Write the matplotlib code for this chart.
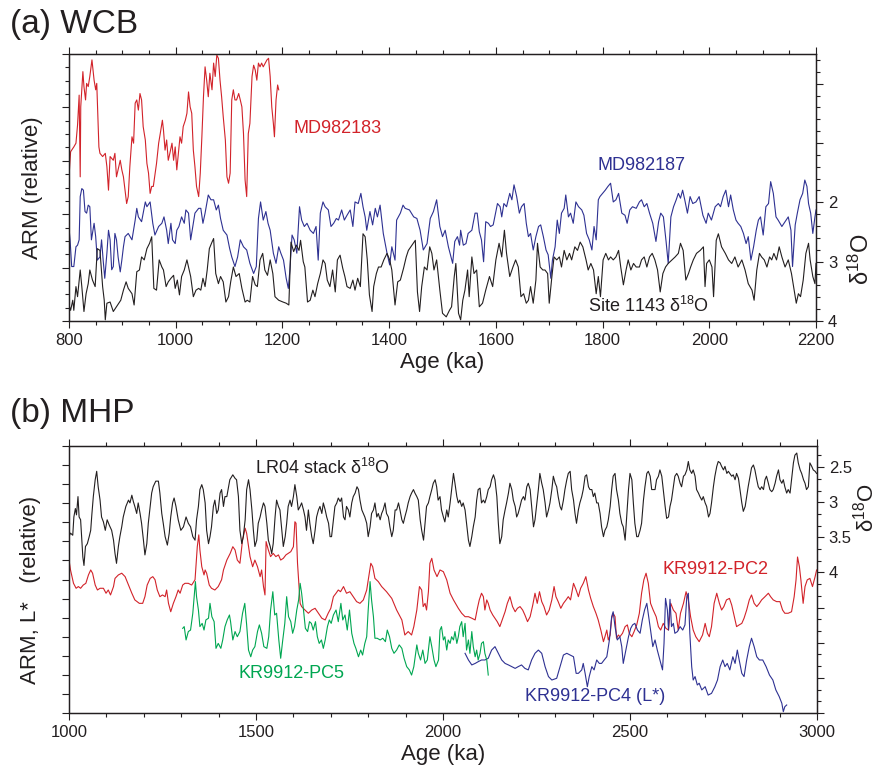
import matplotlib
matplotlib.use("Agg")
import matplotlib.pyplot as plt
from matplotlib.ticker import MultipleLocator, FuncFormatter
import numpy as np

plt.rcParams["font.family"] = ["Liberation Sans", "DejaVu Sans"]
plt.rcParams["mathtext.default"] = "regular"

RED = "#d2232a"
BLUE = "#2e3192"
GREEN = "#00a651"
BLACK = "#231f20"

# ---- (a) WCB: age (ka), value ----
md982183 = [
    (800, 2.70), (803, 3.17), (809, 3.26), (813, 3.33), (816, 3.67), (819, 4.23), (821, 2.70), (822, 4.01),
    (826, 4.67), (828, 4.39), (831, 4.14), (833, 4.45), (836, 4.39), (839, 4.58), (843, 4.89), (847, 4.51),
    (850, 4.33), (852, 4.45), (856, 3.26), (858, 3.14), (863, 3.08), (868, 3.14), (871, 2.89), (874, 2.45),
    (877, 3.08), (883, 3.01), (886, 3.14), (889, 2.70), (896, 3.01), (899, 2.83), (902, 2.70), (905, 2.45),
    (908, 2.20), (911, 2.33), (914, 2.89), (918, 3.45), (921, 3.33), (924, 4.08), (927, 4.14), (930, 3.95),
    (933, 4.26), (936, 4.14), (939, 3.64), (943, 3.39), (946, 2.95), (949, 2.77), (952, 2.39), (955, 2.52),
    (958, 2.52), (964, 2.95), (968, 3.33), (971, 3.51), (975, 3.76), (977, 3.58), (980, 3.20), (983, 3.39),
    (986, 3.01), (989, 3.14), (993, 3.33), (996, 3.01), (999, 3.26), (1002, 2.83), (1005, 3.14), (1008, 3.45),
    (1011, 3.33), (1014, 3.64), (1018, 3.76), (1021, 3.89), (1024, 4.29), (1027, 4.01), (1030, 3.89),
    (1033, 3.20), (1036, 2.89), (1039, 2.52), (1043, 2.33), (1046, 2.77), (1049, 3.45), (1052, 4.20),
    (1055, 4.76), (1058, 4.51), (1061, 4.20), (1064, 4.64), (1068, 4.33), (1071, 4.83), (1074, 4.58),
    (1077, 4.98), (1080, 4.92), (1083, 4.51), (1086, 4.20), (1089, 3.83), (1093, 3.39), (1096, 2.70),
    (1099, 2.58), (1102, 2.77), (1105, 4.14), (1108, 4.33), (1111, 4.14), (1114, 4.14), (1118, 4.26),
    (1121, 4.14), (1124, 4.01), (1127, 3.51), (1130, 2.64), (1133, 2.33), (1136, 3.51), (1139, 3.70),
    (1143, 4.58), (1146, 4.79), (1149, 4.70), (1152, 4.51), (1155, 4.83), (1158, 4.76), (1161, 4.83),
    (1164, 4.76), (1171, 4.89), (1174, 4.92), (1177, 4.58), (1180, 4.01), (1183, 3.70), (1185, 3.45),
    (1188, 4.14), (1191, 4.42), (1193, 4.33),
]

md982187 = [
    (800, 1.74), (802, 1.52), (805, 1.02), (809, 1.02), (813, 1.39), (816, 1.42), (819, 1.52), (821, 2.33),
    (824, 2.48), (827, 2.45), (830, 2.05), (833, 2.02), (836, 2.17), (839, 2.14), (842, 1.52), (847, 1.83),
    (850, 1.58), (853, 1.14), (858, 1.20), (861, 1.52), (864, 1.14), (867, 0.80), (871, 1.27), (874, 1.70),
    (877, 1.52), (880, 0.96), (883, 1.02), (886, 1.64), (889, 1.52), (892, 1.20), (896, 0.92), (899, 1.14),
    (902, 1.39), (905, 1.58), (911, 1.64), (918, 1.52), (924, 1.89), (927, 2.11), (930, 1.95), (936, 1.86),
    (943, 2.23), (946, 2.14), (952, 2.23), (957, 1.83), (961, 1.61), (968, 1.77), (974, 1.83), (978, 1.95),
    (983, 1.70), (986, 1.45), (991, 1.83), (994, 1.52), (999, 1.45), (1002, 1.70), (1006, 1.77), (1011, 1.95),
    (1016, 1.83), (1019, 2.08), (1024, 2.02), (1028, 1.52), (1032, 1.77), (1036, 2.02), (1043, 2.11),
    (1047, 2.11), (1051, 1.83), (1055, 2.02), (1061, 2.36), (1066, 2.27), (1071, 2.27), (1076, 2.08),
    (1080, 2.17), (1084, 1.92), (1089, 1.70), (1096, 1.61), (1101, 1.36), (1105, 1.20), (1111, 1.02),
    (1116, 1.20), (1121, 1.52), (1127, 1.39), (1133, 1.33), (1139, 1.08), (1146, 0.89), (1151, 1.02),
    (1155, 1.92), (1159, 2.23), (1164, 1.89), (1169, 2.05), (1173, 1.83), (1177, 1.70), (1183, 1.27),
    (1188, 1.08), (1193, 1.39), (1197, 1.27), (1202, 1.14), (1207, 0.80), (1211, 0.61), (1214, 0.96),
    (1218, 1.61), (1222, 1.52), (1227, 1.27), (1232, 2.14), (1236, 1.89), (1241, 1.77), (1246, 1.83),
    (1252, 1.70), (1258, 1.64), (1263, 1.77), (1267, 1.14), (1271, 2.02), (1276, 2.23), (1280, 2.14),
    (1286, 2.08), (1291, 1.77), (1296, 1.83), (1301, 1.92), (1305, 1.89), (1311, 2.08), (1316, 1.89),
    (1321, 1.98), (1327, 2.08), (1332, 1.77), (1336, 2.23), (1342, 2.20), (1347, 2.39), (1351, 2.14),
    (1355, 1.95), (1358, 1.70), (1364, 2.05), (1369, 1.80), (1374, 2.11), (1378, 1.95), (1383, 2.17),
    (1389, 1.64), (1396, 1.27), (1401, 1.05), (1405, 1.39), (1411, 1.14), (1414, 1.89), (1421, 2.02),
    (1426, 2.17), (1430, 2.11), (1438, 2.08), (1446, 1.95), (1452, 1.92), (1458, 1.70), (1464, 1.33),
    (1471, 1.45), (1477, 1.92), (1483, 2.05), (1489, 2.27), (1495, 1.77), (1500, 1.58), (1505, 1.70),
    (1511, 1.39), (1519, 1.08), (1523, 1.49), (1528, 1.58), (1532, 1.42), (1534, 1.70), (1539, 1.42),
    (1544, 1.45), (1548, 1.64), (1555, 1.70), (1561, 2.02), (1565, 2.02), (1569, 1.67), (1573, 1.52),
    (1577, 1.11), (1581, 1.86), (1586, 1.83), (1590, 1.77), (1595, 1.80), (1603, 2.20), (1608, 2.14),
    (1611, 1.95), (1615, 2.20), (1620, 2.14), (1626, 2.39), (1630, 2.27), (1634, 2.55), (1639, 2.33),
    (1644, 2.02), (1648, 2.14), (1653, 2.20), (1657, 1.83), (1661, 1.58), (1665, 1.64), (1670, 1.33),
    (1675, 1.58), (1680, 1.77), (1684, 1.80), (1689, 1.58), (1694, 1.33), (1698, 1.24), (1703, 0.80),
    (1706, 1.14), (1711, 1.39), (1715, 1.89), (1719, 1.64), (1723, 2.02), (1728, 2.11), (1731, 2.36),
    (1736, 1.95), (1740, 2.02), (1745, 1.83), (1750, 2.23), (1755, 2.14), (1761, 2.08), (1765, 1.98),
    (1770, 1.64), (1775, 1.52), (1780, 1.33), (1784, 1.77), (1788, 1.52), (1792, 2.27), (1795, 2.33),
    (1800, 2.39), (1805, 2.45), (1810, 2.52), (1815, 2.58), (1820, 2.23), (1825, 2.27), (1830, 2.39),
    (1836, 2.02), (1842, 1.98), (1846, 1.83), (1851, 2.08), (1856, 2.14), (1863, 2.11), (1869, 2.23),
    (1873, 2.27), (1878, 2.14), (1883, 2.20), (1888, 2.02), (1894, 1.83), (1900, 1.49), (1905, 1.86),
    (1909, 2.02), (1914, 1.95), (1919, 1.49), (1923, 1.08), (1928, 1.95), (1933, 2.14), (1938, 2.27),
    (1942, 2.39), (1946, 2.30), (1950, 2.45), (1954, 2.27), (1959, 2.02), (1964, 2.33), (1969, 2.20),
    (1975, 2.23), (1981, 2.33), (1988, 1.98), (1994, 1.83), (1998, 2.02), (2004, 1.89), (2011, 2.14),
    (2017, 2.20), (2021, 2.14), (2026, 2.33), (2031, 2.45), (2036, 2.14), (2040, 2.36), (2045, 2.08),
    (2050, 1.89), (2054, 1.83), (2059, 1.77), (2064, 1.64), (2069, 1.45), (2073, 1.58), (2078, 1.14),
    (2083, 1.39), (2088, 1.70), (2092, 1.89), (2096, 1.95), (2101, 1.61), (2106, 2.14), (2111, 2.20),
    (2115, 2.61), (2120, 2.39), (2125, 1.95), (2129, 1.89), (2136, 1.77), (2142, 1.86), (2148, 1.95),
    (2153, 1.70), (2156, 1.02), (2161, 1.80), (2165, 2.02), (2170, 2.27), (2175, 2.39), (2179, 2.64),
    (2183, 2.52), (2186, 2.20), (2190, 2.02), (2194, 1.64), (2198, 1.95), (2200, 2.08),
]

site1143_d18o = [
    (800, 3.93), (801, 3.76), (803, 3.82), (807, 3.65), (809, 3.82), (813, 3.42), (816, 3.59), (821, 3.14),
    (824, 3.42), (828, 3.84), (832, 3.54), (836, 3.37), (839, 3.14), (844, 3.31), (849, 3.42), (853, 2.78),
    (858, 2.81), (863, 3.42), (866, 3.65), (868, 3.98), (871, 3.70), (877, 3.68), (883, 3.84), (889, 3.76),
    (897, 3.65), (902, 3.48), (907, 3.34), (911, 3.45), (918, 3.54), (922, 3.73), (927, 3.17), (932, 3.14),
    (936, 2.92), (941, 2.97), (946, 2.78), (951, 2.69), (955, 2.58), (959, 3.45), (964, 3.48), (969, 2.97),
    (974, 3.09), (977, 3.14), (982, 3.42), (986, 3.34), (991, 3.28), (996, 3.23), (999, 3.45), (1003, 3.31),
    (1007, 3.56), (1011, 3.25), (1016, 3.14), (1021, 2.97), (1024, 3.09), (1028, 3.25), (1033, 3.59),
    (1038, 3.48), (1043, 3.45), (1047, 3.48), (1051, 3.28), (1055, 3.42), (1059, 3.14), (1063, 2.78),
    (1068, 2.67), (1071, 2.61), (1075, 3.20), (1080, 3.37), (1084, 3.25), (1089, 3.34), (1094, 3.68),
    (1099, 3.59), (1103, 3.34), (1108, 3.09), (1113, 3.25), (1119, 3.20), (1124, 3.45), (1130, 3.68),
    (1134, 3.65), (1139, 3.68), (1144, 3.25), (1149, 3.39), (1153, 3.42), (1158, 2.97), (1163, 2.86),
    (1167, 3.14), (1172, 3.23), (1177, 2.97), (1182, 3.20), (1186, 3.59), (1193, 3.65), (1201, 3.68),
    (1207, 3.70), (1212, 3.73), (1216, 2.67), (1221, 2.83), (1226, 2.72), (1231, 2.81), (1234, 2.64),
    (1239, 3.00), (1242, 3.09), (1247, 3.68), (1252, 3.65), (1257, 3.48), (1261, 3.59), (1266, 3.37),
    (1271, 3.20), (1276, 2.97), (1280, 3.03), (1284, 3.31), (1289, 3.42), (1294, 3.14), (1299, 3.51),
    (1303, 2.97), (1308, 2.89), (1313, 3.11), (1317, 3.25), (1321, 3.42), (1327, 3.45), (1332, 3.31),
    (1336, 3.48), (1341, 3.28), (1346, 3.42), (1351, 2.53), (1355, 2.58), (1359, 2.97), (1363, 3.56),
    (1368, 3.84), (1371, 3.42), (1376, 3.20), (1380, 3.09), (1385, 3.09), (1390, 2.97), (1396, 2.86),
    (1401, 2.97), (1405, 3.14), (1411, 3.73), (1416, 3.34), (1421, 3.31), (1427, 3.11), (1432, 2.92),
    (1436, 2.81), (1443, 2.72), (1449, 2.64), (1453, 3.51), (1457, 3.84), (1461, 3.42), (1466, 3.09),
    (1471, 3.14), (1476, 2.75), (1480, 2.86), (1484, 3.14), (1489, 2.97), (1495, 3.48), (1500, 3.87),
    (1507, 3.93), (1513, 3.82), (1517, 3.76), (1522, 3.25), (1525, 3.03), (1530, 3.87), (1534, 3.98),
    (1538, 3.65), (1542, 3.48), (1547, 3.14), (1550, 3.59), (1555, 2.92), (1559, 3.20), (1564, 3.14),
    (1569, 3.76), (1575, 3.70), (1581, 3.48), (1588, 3.25), (1594, 3.42), (1600, 2.97), (1606, 2.69),
    (1611, 2.92), (1616, 2.47), (1620, 2.86), (1626, 3.25), (1632, 3.09), (1637, 2.97), (1642, 3.09),
    (1647, 3.59), (1652, 3.54), (1657, 3.70), (1661, 3.65), (1665, 3.42), (1670, 3.70), (1675, 3.31),
    (1678, 2.69), (1683, 3.09), (1688, 3.14), (1692, 3.14), (1697, 3.20), (1700, 3.70), (1705, 3.25),
    (1709, 2.92), (1714, 2.97), (1719, 2.92), (1723, 3.09), (1728, 2.81), (1733, 2.97), (1738, 2.86),
    (1742, 2.97), (1748, 2.75), (1753, 2.81), (1758, 2.67), (1763, 2.75), (1769, 2.97), (1773, 3.14),
    (1778, 3.03), (1783, 3.14), (1788, 3.54), (1792, 3.25), (1796, 3.59), (1801, 2.97), (1806, 2.86),
    (1811, 2.97), (1815, 2.92), (1820, 2.97), (1825, 2.92), (1830, 2.81), (1834, 3.09), (1839, 3.39),
    (1844, 3.14), (1848, 2.97), (1853, 3.14), (1858, 3.03), (1863, 3.09), (1869, 3.09), (1873, 2.97),
    (1878, 2.92), (1883, 3.09), (1888, 2.92), (1893, 2.86), (1898, 2.97), (1903, 3.14), (1908, 3.51),
    (1913, 3.20), (1918, 3.09), (1923, 3.03), (1930, 2.97), (1936, 2.92), (1942, 2.86), (1946, 2.69),
    (1951, 2.81), (1956, 3.31), (1961, 3.20), (1965, 3.09), (1970, 2.97), (1976, 2.86), (1983, 2.81),
    (1989, 2.75), (1992, 3.42), (1995, 3.03), (2000, 2.97), (2005, 3.09), (2008, 3.59), (2013, 2.64),
    (2017, 2.53), (2023, 2.75), (2030, 2.86), (2036, 2.97), (2042, 3.03), (2048, 2.92), (2054, 3.09),
    (2061, 2.97), (2067, 3.14), (2073, 3.37), (2080, 3.48), (2084, 3.65), (2089, 3.14), (2094, 2.86),
    (2098, 2.92), (2103, 2.97), (2108, 3.09), (2113, 2.92), (2117, 2.97), (2121, 2.86), (2126, 2.97),
    (2131, 2.75), (2136, 2.92), (2142, 3.09), (2148, 2.97), (2154, 3.20), (2159, 3.48), (2163, 3.70),
    (2167, 3.54), (2171, 3.59), (2176, 3.31), (2181, 2.86), (2186, 2.69), (2189, 2.97), (2194, 3.25),
    (2198, 3.37), (2200, 3.03),
]

# ---- (b) MHP: age (ka), value ----
lr04_d18o = [
    (1000, 3.49), (1004, 3.44), (1010, 3.47), (1013, 3.21), (1017, 3.09), (1020, 3.18), (1024, 2.92),
    (1027, 3.21), (1031, 3.25), (1037, 3.78), (1040, 3.90), (1044, 3.63), (1049, 3.59), (1054, 3.49),
    (1058, 3.40), (1061, 3.18), (1065, 2.92), (1070, 2.68), (1074, 2.56), (1078, 2.78), (1083, 2.97),
    (1087, 3.21), (1092, 3.28), (1097, 3.40), (1102, 3.25), (1108, 3.33), (1114, 3.40), (1119, 3.54),
    (1123, 3.73), (1127, 3.87), (1132, 3.63), (1136, 3.49), (1141, 3.35), (1145, 3.21), (1152, 3.06),
    (1159, 2.97), (1163, 3.01), (1168, 2.90), (1172, 2.99), (1176, 3.06), (1181, 3.16), (1185, 3.01),
    (1190, 3.16), (1194, 3.30), (1199, 3.54), (1203, 3.75), (1208, 3.59), (1212, 3.30), (1217, 3.06),
    (1221, 2.87), (1225, 2.78), (1232, 2.70), (1239, 2.70), (1243, 2.87), (1248, 3.16), (1252, 3.30),
    (1257, 3.49), (1263, 3.61), (1268, 3.44), (1272, 3.21), (1277, 3.01), (1281, 2.94), (1286, 3.06),
    (1292, 3.25), (1299, 3.40), (1306, 3.35), (1313, 3.21), (1319, 3.30), (1325, 3.35), (1331, 3.49),
    (1337, 3.54), (1341, 3.25), (1346, 3.06), (1350, 2.82), (1355, 2.75), (1359, 2.82), (1364, 3.01),
    (1368, 3.40), (1373, 3.59), (1377, 3.49), (1381, 3.35), (1386, 3.06), (1390, 2.97), (1395, 3.16),
    (1399, 3.11), (1404, 2.87), (1408, 2.82), (1413, 3.06), (1417, 2.92), (1422, 2.92), (1426, 2.80),
    (1430, 2.68), (1438, 2.61), (1444, 2.66), (1448, 2.68), (1453, 2.92), (1457, 3.40), (1462, 3.59),
    (1466, 3.49), (1471, 3.25), (1475, 2.82), (1480, 2.68), (1484, 2.82), (1489, 3.11), (1493, 3.40),
    (1497, 3.63), (1502, 3.54), (1506, 3.30), (1511, 3.21), (1515, 3.11), (1520, 3.01), (1524, 3.06),
    (1529, 3.30), (1533, 3.54), (1538, 3.63), (1542, 3.73), (1546, 3.59), (1551, 3.21), (1555, 2.97),
    (1560, 3.06), (1564, 3.11), (1569, 3.40), (1573, 3.63), (1578, 3.49), (1582, 3.30), (1586, 3.06),
    (1591, 2.97), (1595, 3.06), (1600, 2.92), (1604, 2.75), (1609, 2.92), (1613, 3.11), (1618, 3.06),
    (1622, 3.01), (1627, 3.11), (1631, 3.21), (1635, 3.40), (1640, 3.11), (1644, 3.30), (1649, 3.49),
    (1653, 3.59), (1658, 3.40), (1662, 3.21), (1667, 3.11), (1671, 3.06), (1676, 3.16), (1680, 3.01),
    (1685, 3.11), (1689, 3.21), (1694, 3.30), (1698, 3.49), (1702, 3.49), (1707, 3.25), (1711, 3.06),
    (1716, 3.01), (1720, 2.94), (1725, 2.99), (1729, 2.94), (1734, 3.21), (1738, 3.25), (1742, 3.06),
    (1747, 3.11), (1751, 3.21), (1756, 3.01), (1760, 2.92), (1765, 2.87), (1770, 2.78), (1774, 2.82),
    (1778, 2.97), (1783, 3.11), (1787, 3.16), (1791, 3.21), (1796, 3.30), (1800, 3.49), (1805, 3.35),
    (1809, 3.16), (1814, 3.11), (1818, 3.01), (1823, 3.21), (1827, 3.16), (1832, 3.25), (1836, 3.16),
    (1840, 3.11), (1845, 3.01), (1849, 3.16), (1854, 3.21), (1858, 3.35), (1863, 3.49), (1867, 3.40),
    (1872, 3.11), (1876, 3.11), (1881, 3.01), (1885, 3.11), (1890, 3.25), (1894, 3.30), (1898, 3.21),
    (1903, 3.11), (1907, 3.01), (1912, 2.92), (1916, 2.87), (1921, 2.82), (1925, 2.87), (1930, 2.92),
    (1934, 2.97), (1939, 3.25), (1943, 3.40), (1948, 3.54), (1952, 3.30), (1956, 3.06), (1961, 3.01),
    (1965, 2.92), (1970, 2.82), (1974, 2.73), (1979, 2.68), (1983, 2.78), (1987, 2.97), (1992, 2.92),
    (1996, 3.11), (2001, 3.21), (2005, 3.28), (2010, 3.11), (2014, 3.21), (2019, 3.01), (2023, 2.82),
    (2028, 2.59), (2032, 2.73), (2037, 2.92), (2041, 3.01), (2045, 2.97), (2050, 3.06), (2054, 3.01),
    (2059, 3.11), (2063, 3.30), (2068, 3.54), (2072, 3.63), (2077, 3.49), (2081, 3.35), (2086, 3.21),
    (2090, 2.97), (2094, 2.82), (2099, 2.80), (2103, 3.01), (2108, 2.97), (2112, 3.01), (2117, 2.92),
    (2121, 2.82), (2126, 2.78), (2130, 2.68), (2135, 2.61), (2139, 2.68), (2144, 2.92), (2148, 3.30),
    (2152, 3.59), (2157, 3.49), (2161, 3.25), (2166, 3.11), (2170, 3.01), (2175, 2.87), (2179, 2.73),
    (2184, 2.82), (2188, 2.97), (2193, 3.06), (2197, 3.21), (2201, 3.16), (2206, 3.06), (2210, 2.97),
    (2215, 2.92), (2219, 2.97), (2224, 2.78), (2228, 2.73), (2233, 2.82), (2237, 3.06), (2242, 3.35),
    (2246, 3.25), (2250, 3.06), (2255, 2.82), (2259, 2.59), (2264, 2.73), (2268, 2.82), (2273, 3.01),
    (2277, 3.21), (2282, 3.11), (2286, 3.01), (2291, 2.82), (2295, 2.63), (2300, 2.73), (2304, 2.78),
    (2308, 2.92), (2313, 3.06), (2317, 3.11), (2322, 2.97), (2326, 2.82), (2331, 2.68), (2335, 2.59),
    (2340, 2.56), (2344, 2.82), (2349, 2.97), (2353, 3.16), (2357, 3.30), (2362, 3.11), (2366, 3.01),
    (2371, 2.92), (2375, 2.82), (2380, 2.63), (2384, 2.61), (2389, 2.78), (2393, 2.82), (2398, 2.82),
    (2402, 2.92), (2406, 2.87), (2411, 3.01), (2415, 3.01), (2420, 3.16), (2424, 3.35), (2429, 3.49),
    (2433, 3.40), (2438, 3.35), (2442, 3.25), (2447, 3.06), (2451, 2.82), (2455, 2.63), (2460, 2.59),
    (2464, 2.82), (2469, 2.97), (2473, 3.16), (2478, 3.30), (2482, 3.35), (2487, 3.54), (2491, 3.21),
    (2496, 2.82), (2500, 2.59), (2505, 2.68), (2509, 3.01), (2513, 3.30), (2518, 3.49), (2522, 3.49),
    (2527, 3.40), (2531, 3.30), (2536, 2.97), (2540, 2.78), (2545, 2.59), (2549, 2.56), (2554, 2.63),
    (2558, 2.82), (2562, 2.82), (2567, 2.82), (2571, 2.68), (2576, 2.63), (2580, 2.54), (2585, 2.63),
    (2589, 2.82), (2594, 3.06), (2598, 3.23), (2603, 3.21), (2607, 3.06), (2611, 2.97), (2616, 2.78),
    (2620, 2.63), (2625, 2.59), (2629, 2.63), (2634, 2.73), (2638, 2.78), (2643, 2.63), (2647, 2.61),
    (2652, 2.54), (2656, 2.42), (2660, 2.54), (2665, 2.59), (2669, 2.54), (2674, 2.63), (2678, 2.82),
    (2683, 2.87), (2687, 2.92), (2692, 2.97), (2696, 2.92), (2701, 3.01), (2705, 3.06), (2710, 3.21),
    (2714, 3.16), (2718, 3.01), (2723, 2.78), (2727, 2.63), (2732, 2.49), (2736, 2.42), (2741, 2.44),
    (2745, 2.49), (2750, 2.54), (2754, 2.49), (2759, 2.59), (2763, 2.56), (2767, 2.59), (2772, 2.63),
    (2776, 2.61), (2781, 2.68), (2785, 2.59), (2790, 2.66), (2794, 2.82), (2799, 3.01), (2803, 3.13),
    (2808, 3.06), (2812, 2.92), (2816, 2.78), (2821, 2.63), (2825, 2.51), (2830, 2.47), (2834, 2.54),
    (2839, 2.68), (2843, 2.78), (2848, 2.82), (2852, 2.78), (2857, 2.82), (2861, 2.68), (2865, 2.63),
    (2870, 2.73), (2874, 2.82), (2879, 2.85), (2883, 2.82), (2888, 2.73), (2892, 2.63), (2897, 2.54),
    (2901, 2.68), (2906, 2.73), (2910, 2.68), (2914, 2.78), (2919, 2.87), (2923, 2.82), (2928, 2.87),
    (2932, 2.68), (2937, 2.44), (2941, 2.33), (2946, 2.30), (2950, 2.44), (2955, 2.54), (2959, 2.59),
    (2964, 2.68), (2968, 2.73), (2972, 2.82), (2977, 2.78), (2981, 2.44), (2986, 2.49), (2990, 2.54),
    (2995, 2.56), (2999, 2.59),
]

kr9912_pc2 = [
    (1000, 8.02), (1004, 7.50), (1012, 6.80), (1019, 6.54), (1025, 6.63), (1031, 6.54), (1038, 6.71),
    (1045, 6.80), (1052, 7.24), (1058, 7.50), (1063, 7.33), (1070, 6.71), (1076, 6.45), (1083, 6.54),
    (1092, 6.54), (1099, 6.28), (1105, 6.45), (1111, 6.19), (1119, 6.63), (1123, 7.06), (1132, 7.24),
    (1141, 7.33), (1150, 7.15), (1159, 6.71), (1168, 6.28), (1176, 5.93), (1188, 5.75), (1197, 5.75),
    (1203, 6.10), (1209, 6.71), (1217, 7.06), (1224, 7.15), (1230, 6.99), (1236, 6.45), (1243, 6.10),
    (1250, 6.19), (1257, 6.10), (1261, 6.45), (1266, 5.75), (1272, 5.31), (1279, 5.75), (1286, 6.10),
    (1292, 6.45), (1297, 6.28), (1304, 6.71), (1310, 6.80), (1319, 6.80), (1328, 6.71), (1337, 6.99),
    (1340, 7.85), (1343, 8.72), (1347, 9.34), (1350, 8.55), (1355, 7.67), (1361, 7.24), (1364, 7.50),
    (1368, 7.33), (1375, 6.71), (1381, 6.54), (1390, 6.45), (1399, 6.63), (1408, 6.99), (1413, 7.50),
    (1422, 8.02), (1431, 8.37), (1438, 8.72), (1444, 8.55), (1450, 8.02), (1457, 7.85), (1464, 9.07),
    (1471, 9.69), (1475, 9.42), (1480, 8.72), (1484, 8.20), (1491, 7.67), (1497, 8.02), (1504, 7.67),
    (1511, 7.15), (1515, 7.50), (1520, 6.63), (1524, 6.19), (1527, 8.99), (1533, 8.55), (1539, 8.20),
    (1546, 8.37), (1553, 8.20), (1560, 8.29), (1566, 8.02), (1573, 8.11), (1580, 8.29), (1586, 8.37),
    (1593, 8.46), (1600, 8.72), (1604, 10.03), (1607, 9.95), (1611, 7.85), (1618, 5.75), (1622, 5.58),
    (1631, 5.40), (1640, 5.23), (1649, 5.40), (1658, 5.49), (1667, 5.23), (1676, 4.97), (1685, 4.88),
    (1693, 5.23), (1700, 5.49), (1707, 6.10), (1714, 6.28), (1720, 6.45), (1726, 6.36), (1734, 6.63),
    (1742, 6.28), (1751, 6.36), (1760, 6.10), (1769, 5.84), (1778, 5.75), (1787, 5.93), (1796, 6.45),
    (1803, 7.33), (1807, 7.85), (1812, 7.67), (1818, 7.06), (1827, 6.89), (1836, 6.63), (1849, 6.36),
    (1863, 6.01), (1876, 5.40), (1890, 4.88), (1898, 4.09), (1907, 4.27), (1916, 4.09), (1922, 4.53),
    (1930, 5.40), (1937, 6.63), (1943, 6.45), (1947, 5.58), (1952, 5.75), (1956, 5.40), (1961, 6.36),
    (1965, 7.85), (1970, 8.11), (1976, 7.50), (1984, 7.15), (1992, 7.50), (2001, 7.41), (2010, 6.98),
    (2019, 6.28), (2028, 5.93), (2041, 5.49), (2050, 5.23), (2059, 5.05), (2068, 5.05), (2077, 4.97),
    (2086, 4.88), (2092, 5.49), (2097, 5.93), (2103, 6.28), (2108, 6.10), (2112, 5.40), (2117, 5.93),
    (2121, 5.75), (2126, 5.40), (2133, 5.14), (2139, 4.97), (2145, 4.79), (2152, 4.53), (2160, 4.97),
    (2166, 5.31), (2172, 5.75), (2179, 6.10), (2186, 5.58), (2193, 5.31), (2199, 5.49), (2206, 5.58),
    (2213, 5.40), (2219, 5.14), (2226, 4.79), (2233, 5.05), (2240, 5.66), (2246, 6.28), (2252, 5.75),
    (2258, 6.36), (2264, 5.84), (2270, 5.58), (2277, 5.14), (2284, 5.40), (2291, 5.93), (2297, 6.63),
    (2302, 6.10), (2308, 5.84), (2315, 5.49), (2322, 5.75), (2329, 5.93), (2335, 6.10), (2341, 5.93),
    (2349, 6.80), (2356, 6.45), (2362, 6.10), (2368, 6.54), (2375, 6.80), (2382, 7.15), (2389, 6.45),
    (2395, 6.01), (2402, 5.58), (2409, 5.23), (2415, 4.88), (2422, 4.35), (2429, 3.74), (2433, 4.00),
    (2438, 4.35), (2442, 3.83), (2447, 4.09), (2451, 4.97), (2455, 5.23), (2460, 5.05), (2464, 3.92),
    (2469, 4.09), (2473, 4.00), (2480, 4.18), (2487, 4.53), (2493, 4.62), (2498, 4.18), (2505, 4.00),
    (2511, 4.27), (2518, 4.62), (2525, 5.23), (2531, 6.28), (2537, 6.98), (2543, 7.33), (2549, 6.80),
    (2555, 5.75), (2562, 5.40), (2570, 5.05), (2576, 4.53), (2582, 4.35), (2589, 4.70), (2596, 4.44),
    (2603, 4.35), (2609, 5.75), (2616, 5.40), (2623, 5.23), (2629, 4.35), (2635, 5.23), (2643, 5.75),
    (2650, 6.36), (2656, 5.93), (2662, 5.05), (2669, 4.35), (2676, 4.00), (2685, 3.74), (2694, 4.09),
    (2701, 4.70), (2707, 4.18), (2712, 4.00), (2718, 4.53), (2725, 5.75), (2732, 6.28), (2739, 5.75),
    (2745, 5.40), (2751, 5.58), (2758, 5.93), (2766, 6.01), (2772, 5.66), (2778, 5.14), (2785, 4.53),
    (2792, 4.62), (2799, 4.70), (2805, 4.97), (2812, 5.40), (2819, 5.93), (2825, 6.19), (2832, 5.75),
    (2839, 5.58), (2846, 5.75), (2852, 5.93), (2861, 6.10), (2870, 6.28), (2876, 6.10), (2883, 5.93),
    (2892, 5.84), (2901, 5.84), (2908, 5.40), (2914, 5.23), (2923, 5.23), (2932, 5.31), (2939, 6.10),
    (2944, 6.98), (2948, 8.18), (2953, 7.67), (2957, 6.98), (2963, 5.75), (2968, 6.63), (2974, 6.98),
    (2981, 7.06), (2988, 6.63), (2995, 7.15), (2999, 7.50),
]

kr9912_pc5 = [
    (1304, 4.44), (1308, 4.53), (1313, 3.83), (1319, 4.27), (1325, 4.35), (1331, 5.23), (1334, 5.93),
    (1338, 6.89), (1341, 6.10), (1346, 5.40), (1350, 4.53), (1356, 4.70), (1361, 4.35), (1366, 4.88),
    (1373, 4.97), (1377, 5.75), (1382, 5.05), (1388, 4.79), (1393, 3.39), (1399, 3.65), (1406, 3.39),
    (1411, 3.83), (1417, 4.53), (1423, 4.88), (1429, 5.14), (1432, 4.79), (1438, 3.83), (1444, 4.27),
    (1450, 4.00), (1457, 4.27), (1464, 5.23), (1470, 5.75), (1475, 4.62), (1480, 3.30), (1486, 2.95),
    (1491, 3.30), (1497, 3.48), (1504, 4.27), (1509, 4.62), (1515, 4.18), (1521, 3.48), (1529, 3.39),
    (1534, 4.00), (1539, 5.40), (1545, 6.36), (1550, 5.14), (1555, 5.23), (1561, 3.83), (1566, 2.87),
    (1571, 3.74), (1577, 4.70), (1582, 6.10), (1587, 5.05), (1593, 4.79), (1598, 4.18), (1603, 4.53),
    (1609, 5.40), (1614, 5.93), (1618, 6.80), (1622, 6.28), (1627, 5.40), (1632, 4.44), (1638, 4.27),
    (1643, 4.79), (1648, 4.70), (1653, 4.35), (1659, 4.79), (1664, 4.00), (1669, 3.65), (1675, 3.83),
    (1680, 3.39), (1685, 3.83), (1691, 4.53), (1696, 4.88), (1701, 4.70), (1707, 5.14), (1714, 5.40),
    (1720, 4.79), (1727, 5.75), (1732, 4.88), (1738, 5.14), (1744, 4.35), (1750, 5.40), (1756, 4.18),
    (1762, 3.65), (1767, 3.39), (1774, 2.95), (1780, 3.30), (1785, 3.04), (1791, 3.65), (1796, 4.00),
    (1800, 5.40), (1805, 6.89), (1809, 5.93), (1814, 5.05), (1818, 3.92), (1824, 3.92), (1832, 3.83),
    (1839, 3.92), (1846, 3.74), (1851, 4.35), (1857, 4.00), (1863, 3.39), (1869, 3.13), (1876, 3.30),
    (1883, 3.57), (1890, 3.39), (1896, 2.87), (1903, 2.43), (1910, 2.26), (1916, 1.99), (1922, 2.43),
    (1930, 3.57), (1934, 3.13), (1940, 2.78), (1946, 3.30), (1952, 2.60), (1958, 2.78), (1965, 4.00),
    (1970, 3.48), (1976, 2.78), (1981, 2.43), (1988, 2.78), (1992, 4.35), (1996, 4.53), (2001, 3.83),
    (2005, 4.00), (2010, 3.30), (2014, 3.83), (2019, 3.65), (2023, 4.00), (2028, 3.83), (2032, 4.27),
    (2037, 3.65), (2041, 4.00), (2045, 4.53), (2050, 4.79), (2054, 4.00), (2059, 4.70), (2063, 3.30),
    (2068, 3.83), (2072, 3.13), (2077, 4.27), (2081, 3.48), (2086, 2.95), (2090, 3.30), (2094, 2.78),
    (2099, 3.13), (2103, 3.65), (2108, 3.74), (2112, 3.13), (2117, 2.78), (2121, 1.99),
]

kr9912_pc4_lstar = [
    (2059, 3.13), (2068, 2.78), (2077, 2.52), (2086, 2.60), (2094, 2.69), (2103, 2.78), (2112, 2.78),
    (2121, 2.87), (2130, 3.30), (2139, 3.48), (2148, 3.13), (2157, 2.78), (2166, 2.60), (2175, 2.52),
    (2184, 2.43), (2193, 2.34), (2201, 2.43), (2210, 2.52), (2219, 2.34), (2228, 2.26), (2237, 2.78),
    (2246, 3.13), (2255, 3.30), (2264, 3.13), (2273, 2.43), (2282, 1.91), (2291, 1.73), (2304, 1.82),
    (2313, 2.43), (2322, 3.04), (2331, 3.13), (2340, 3.04), (2349, 2.95), (2356, 2.08), (2362, 2.08),
    (2371, 2.26), (2375, 2.60), (2380, 2.08), (2386, 1.38), (2391, 1.91), (2398, 2.43), (2404, 2.26),
    (2411, 2.78), (2418, 2.60), (2424, 2.60), (2431, 2.78), (2438, 2.95), (2445, 3.83), (2451, 5.05),
    (2455, 5.31), (2460, 4.53), (2466, 3.83), (2473, 4.00), (2478, 3.48), (2482, 2.60), (2489, 3.30),
    (2496, 4.00), (2502, 4.44), (2507, 4.62), (2513, 4.70), (2520, 4.35), (2527, 4.18), (2533, 4.88),
    (2539, 5.40), (2545, 5.75), (2550, 5.05), (2555, 4.35), (2561, 3.48), (2567, 3.83), (2573, 3.30),
    (2580, 2.78), (2587, 2.26), (2591, 3.65), (2595, 6.01), (2600, 5.40), (2603, 4.35), (2607, 5.96),
    (2611, 4.53), (2616, 4.70), (2620, 4.18), (2627, 4.27), (2634, 4.53), (2641, 4.35), (2647, 4.62),
    (2652, 6.10), (2656, 6.28), (2660, 4.18), (2665, 2.43), (2669, 1.73), (2674, 1.91), (2680, 1.47),
    (2685, 1.56), (2692, 1.21), (2701, 1.38), (2709, 0.94), (2718, 1.03), (2727, 1.38), (2734, 1.73),
    (2741, 2.43), (2748, 2.78), (2754, 2.43), (2760, 2.60), (2767, 2.26), (2775, 2.95), (2781, 2.60),
    (2787, 3.30), (2792, 2.78), (2799, 2.08), (2805, 1.91), (2812, 2.78), (2819, 3.48), (2825, 3.92),
    (2832, 3.48), (2839, 2.95), (2846, 2.78), (2855, 2.78), (2864, 2.43), (2873, 1.99), (2882, 1.73),
    (2890, 1.21), (2899, 0.86), (2906, 0.51), (2910, 0.07), (2914, 0.33), (2919, 0.42),
]


def xy(series):
    arr = np.array(series, dtype=float)
    return arr[:, 0], arr[:, 1]


def style_axes(ax, ax2):
    for a in (ax, ax2):
        for s in a.spines.values():
            s.set_linewidth(0.9)
            s.set_color(BLACK)
    ax.tick_params(which="both", direction="out", top=True, right=False, colors=BLACK,
                   labelsize=12, width=0.8)
    ax.tick_params(which="major", length=5)
    ax.tick_params(which="minor", length=3)
    ax.tick_params(axis="y", labelleft=False)
    ax2.tick_params(which="both", direction="out", colors=BLACK, labelsize=12, width=0.8)
    ax2.tick_params(which="major", length=5)
    ax2.tick_params(which="minor", length=3)


fig = plt.figure(figsize=(8.78, 7.75), dpi=100)
lw = 0.8

# ---------------- panel (a) ----------------
ax = fig.add_axes([0.0786, 0.5858, 0.8508, 0.3445])
ax2 = ax.twinx()
x, y = xy(md982183)
ax.plot(x, y, color=RED, lw=lw)
x, y = xy(md982187)
ax.plot(x, y, color=BLUE, lw=lw)
x, y = xy(site1143_d18o)
ax2.plot(x, y, color=BLACK, lw=lw)

ax.set_xlim(800, 2200)
ax.set_ylim(0, 5)
ax2.set_ylim(4.0, -0.5)
ax.xaxis.set_major_locator(MultipleLocator(200))
ax.xaxis.set_minor_locator(MultipleLocator(50))
ax.yaxis.set_major_locator(MultipleLocator(1))
ax.yaxis.set_minor_locator(MultipleLocator(0.25))
ax2.yaxis.set_major_locator(MultipleLocator(1))
ax2.yaxis.set_minor_locator(MultipleLocator(0.2))
ax2.yaxis.set_major_formatter(FuncFormatter(lambda v, p: "%d" % v if v >= 2 else ""))
style_axes(ax, ax2)
ax.set_xlabel("Age (ka)", fontsize=16, labelpad=3, color=BLACK)
ax.set_ylabel("ARM (relative)", fontsize=16, labelpad=12, color=BLACK)
ax2.set_ylabel("δ$^{18}$O", fontsize=17, color=BLACK)
ax2.yaxis.set_label_coords(1.044, 0.23)

ax.text(1220, 3.6, "MD982183", color=RED, fontsize=13, va="center")
ax.text(1791, 2.92, "MD982187", color=BLUE, fontsize=13, va="center")
ax.text(1773, 0.28, "Site 1143 δ$^{18}$O", color=BLACK, fontsize=13, va="center")
fig.text(0.011, 0.968, "(a) WCB", fontsize=24, va="center", color=BLACK)

# ---------------- panel (b) ----------------
bx = fig.add_axes([0.0786, 0.08, 0.8519, 0.3445])
bx2 = bx.twinx()
x, y = xy(kr9912_pc2)
bx.plot(x, y, color=RED, lw=lw)
x, y = xy(kr9912_pc4_lstar)
bx.plot(x, y, color=BLUE, lw=lw)
x, y = xy(kr9912_pc5)
bx.plot(x, y, color=GREEN, lw=lw)
x, y = xy(lr04_d18o)
bx2.plot(x, y, color=BLACK, lw=lw)

bx.set_xlim(1000, 3000)
bx.set_ylim(0, 14)
bx2.set_ylim(6.0, 2.2)
bx.xaxis.set_major_locator(MultipleLocator(500))
bx.xaxis.set_minor_locator(MultipleLocator(100))
bx.yaxis.set_major_locator(MultipleLocator(1))
bx2.yaxis.set_major_locator(MultipleLocator(0.5))
bx2.yaxis.set_minor_locator(MultipleLocator(0.5 / 3))
bx2.yaxis.set_major_formatter(FuncFormatter(lambda v, p: ("%g" % v) if v <= 4.01 else ""))
style_axes(bx, bx2)
bx.set_xlabel("Age (ka)", fontsize=16, labelpad=3, color=BLACK)
bx.set_ylabel("ARM, L*   (relative)", fontsize=16, color=BLACK)
bx.yaxis.set_label_coords(-0.037, 0.46)
bx2.set_ylabel("δ$^{18}$O", fontsize=16, color=BLACK)
bx2.yaxis.set_label_coords(1.047, 0.77)

bx.text(1497, 12.85, "LR04 stack δ$^{18}$O", color=BLACK, fontsize=13, va="center")
bx.text(2586, 7.5, "KR9912-PC2", color=RED, fontsize=13, va="center")
bx.text(1452, 2.05, "KR9912-PC5", color=GREEN, fontsize=13, va="center")
bx.text(2219, 0.84, "KR9912-PC4 (L*)", color=BLUE, fontsize=13, va="center")
fig.text(0.011, 0.466, "(b) MHP", fontsize=24, va="center", color=BLACK)

fig.savefig("out.png", dpi=100)
